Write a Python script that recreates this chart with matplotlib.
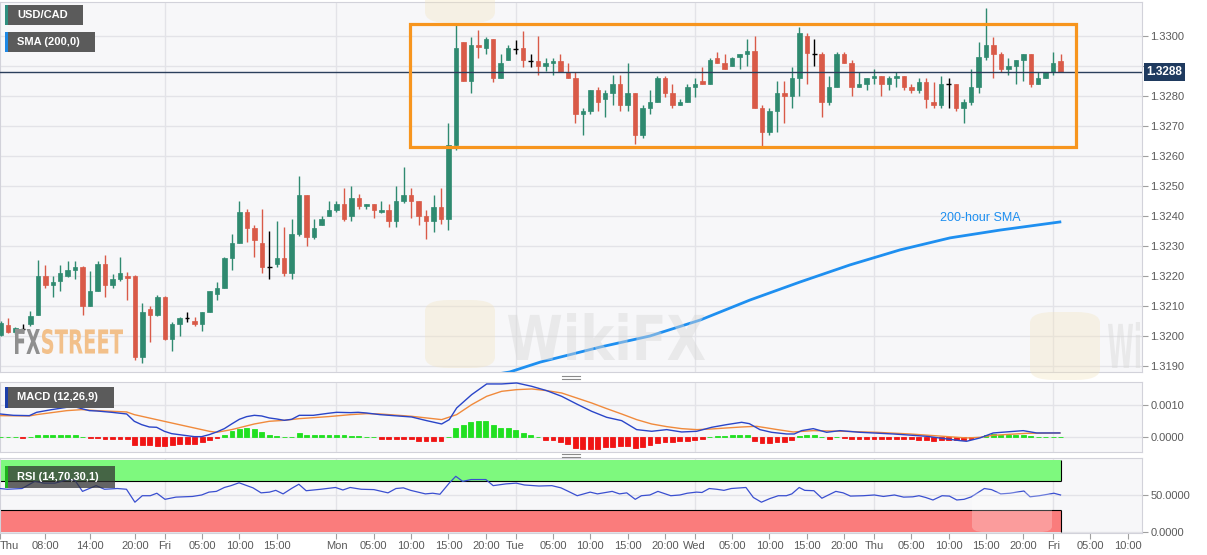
import numpy as np
import matplotlib
matplotlib.use("Agg")
import matplotlib.pyplot as plt
import matplotlib.transforms as mtransforms
from matplotlib.patches import Rectangle, FancyBboxPatch, PathPatch
from matplotlib.lines import Line2D
from matplotlib.textpath import TextPath
from matplotlib.font_manager import FontProperties

plt.rcParams['font.family'] = ['Liberation Sans', 'DejaVu Sans']

# hourly candles, index 0 = Thu 00:00 (weekend hours dropped)
bar_idx = np.arange(2, 145)
opens = [1.32002, 1.32037, 1.32011, 1.32022, 1.32039, 1.32070, 1.32200, 1.32170, 1.32181, 1.32200,
         1.32220, 1.32230, 1.32100, 1.32150, 1.32239, 1.32170, 1.32189, 1.32200, 1.32200, 1.31928,
         1.32089, 1.32070, 1.32128, 1.31989, 1.32039, 1.32058, 1.32048, 1.32039, 1.32078, 1.32139,
         1.32159, 1.32259, 1.32308, 1.32411, 1.32359, 1.32308, 1.32228, 1.32239, 1.32259, 1.32209,
         1.32339, 1.32470, 1.32330, 1.32370, 1.32400, 1.32419, 1.32439, 1.32400, 1.32459, 1.32431,
         1.32439, 1.32411, 1.32419, 1.32381, 1.32450, 1.32469, 1.32450, 1.32400, 1.32381, 1.32430,
         1.32389, 1.32636, 1.32978, 1.32849, 1.32969, 1.32960, 1.32989, 1.32860, 1.32919, 1.32956,
         1.32958, 1.32917, 1.32917, 1.32900, 1.32910, 1.32917, 1.32878, 1.32858, 1.32738, 1.32749,
         1.32819, 1.32789, 1.32808, 1.32838, 1.32769, 1.32808, 1.32669, 1.32758, 1.32778, 1.32858,
         1.32808, 1.32769, 1.32778, 1.32828, 1.32849, 1.32839, 1.32927, 1.32908, 1.32899, 1.32930,
         1.32938, 1.32949, 1.32758, 1.32680, 1.32749, 1.32808, 1.32799, 1.32858, 1.33000, 1.32939,
         1.32939, 1.32780, 1.32828, 1.32939, 1.32910, 1.32828, 1.32839, 1.32858, 1.32867, 1.32839,
         1.32858, 1.32867, 1.32828, 1.32819, 1.32847, 1.32778, 1.32769, 1.32838, 1.32838, 1.32758,
         1.32778, 1.32828, 1.32928, 1.32969, 1.32939, 1.32888, 1.32899, 1.32919, 1.32939, 1.32839,
         1.32858, 1.32878, 1.32917]
highs = [1.32050, 1.32058, 1.32030, 1.32039, 1.32083, 1.32252, 1.32237, 1.32200, 1.32237, 1.32250,
         1.32248, 1.32231, 1.32217, 1.32250, 1.32270, 1.32206, 1.32261, 1.32211, 1.32202, 1.32108,
         1.32100, 1.32137, 1.32133, 1.32047, 1.32061, 1.32078, 1.32061, 1.32080, 1.32150, 1.32178,
         1.32261, 1.32339, 1.32450, 1.32422, 1.32370, 1.32422, 1.32350, 1.32381, 1.32361, 1.32389,
         1.32531, 1.32470, 1.32389, 1.32400, 1.32450, 1.32450, 1.32492, 1.32500, 1.32472, 1.32439,
         1.32439, 1.32450, 1.32439, 1.32500, 1.32561, 1.32491, 1.32450, 1.32419, 1.32470, 1.32491,
         1.32708, 1.33036, 1.32980, 1.32997, 1.33019, 1.32997, 1.32989, 1.32938, 1.32969, 1.32986,
         1.33017, 1.32938, 1.32999, 1.32927, 1.32927, 1.32938, 1.32908, 1.32878, 1.32758, 1.32819,
         1.32828, 1.32819, 1.32869, 1.32869, 1.32908, 1.32808, 1.32769, 1.32819, 1.32867, 1.32867,
         1.32838, 1.32788, 1.32838, 1.32858, 1.32897, 1.32927, 1.32947, 1.32938, 1.32930, 1.32938,
         1.32988, 1.32999, 1.32769, 1.32758, 1.32849, 1.32849, 1.32897, 1.33028, 1.33008, 1.32988,
         1.32947, 1.32867, 1.32947, 1.32947, 1.32919, 1.32878, 1.32858, 1.32888, 1.32867, 1.32867,
         1.32878, 1.32867, 1.32838, 1.32858, 1.32858, 1.32847, 1.32867, 1.32858, 1.32838, 1.32788,
         1.32888, 1.32978, 1.33092, 1.32997, 1.32947, 1.32927, 1.32919, 1.32939, 1.32939, 1.32878,
         1.32878, 1.32947, 1.32938]
lows = [1.31998, 1.32009, 1.32006, 1.32008, 1.32033, 1.32070, 1.32158, 1.32128, 1.32150, 1.32194,
        1.32189, 1.32069, 1.32098, 1.32148, 1.32130, 1.32158, 1.32181, 1.32119, 1.31919, 1.31908,
        1.31978, 1.32067, 1.31987, 1.31948, 1.31998, 1.32047, 1.32031, 1.32017, 1.32078, 1.32119,
        1.32159, 1.32219, 1.32308, 1.32311, 1.32261, 1.32209, 1.32189, 1.32228, 1.32200, 1.32189,
        1.32333, 1.32300, 1.32322, 1.32370, 1.32400, 1.32411, 1.32381, 1.32383, 1.32422, 1.32422,
        1.32391, 1.32409, 1.32361, 1.32361, 1.32441, 1.32391, 1.32370, 1.32322, 1.32344, 1.32372,
        1.32352, 1.32619, 1.32849, 1.32808, 1.32927, 1.32938, 1.32847, 1.32858, 1.32919, 1.32938,
        1.32897, 1.32897, 1.32869, 1.32882, 1.32869, 1.32878, 1.32858, 1.32708, 1.32669, 1.32738,
        1.32749, 1.32728, 1.32769, 1.32749, 1.32749, 1.32638, 1.32658, 1.32738, 1.32778, 1.32797,
        1.32758, 1.32769, 1.32778, 1.32797, 1.32839, 1.32839, 1.32908, 1.32889, 1.32899, 1.32889,
        1.32899, 1.32758, 1.32630, 1.32669, 1.32680, 1.32708, 1.32758, 1.32799, 1.32838, 1.32899,
        1.32728, 1.32769, 1.32828, 1.32908, 1.32799, 1.32828, 1.32819, 1.32839, 1.32799, 1.32819,
        1.32828, 1.32819, 1.32808, 1.32808, 1.32758, 1.32758, 1.32758, 1.32758, 1.32749, 1.32708,
        1.32769, 1.32808, 1.32919, 1.32858, 1.32878, 1.32869, 1.32838, 1.32849, 1.32828, 1.32839,
        1.32858, 1.32869, 1.32878]
closes = [1.32042, 1.32011, 1.32026, 1.32022, 1.32067, 1.32200, 1.32170, 1.32178, 1.32208, 1.32219,
          1.32230, 1.32100, 1.32148, 1.32239, 1.32170, 1.32189, 1.32208, 1.32191, 1.31928, 1.32078,
          1.32070, 1.32128, 1.31989, 1.32039, 1.32058, 1.32058, 1.32039, 1.32078, 1.32148, 1.32159,
          1.32259, 1.32308, 1.32411, 1.32359, 1.32319, 1.32230, 1.32228, 1.32259, 1.32209, 1.32339,
          1.32470, 1.32330, 1.32359, 1.32389, 1.32419, 1.32439, 1.32389, 1.32459, 1.32431, 1.32439,
          1.32420, 1.32419, 1.32381, 1.32450, 1.32469, 1.32450, 1.32400, 1.32381, 1.32430, 1.32389,
          1.32636, 1.32958, 1.32849, 1.32969, 1.32961, 1.32989, 1.32860, 1.32908, 1.32958, 1.32956,
          1.32919, 1.32917, 1.32900, 1.32908, 1.32917, 1.32878, 1.32858, 1.32738, 1.32749, 1.32819,
          1.32780, 1.32808, 1.32838, 1.32769, 1.32808, 1.32669, 1.32758, 1.32778, 1.32858, 1.32808,
          1.32769, 1.32778, 1.32828, 1.32838, 1.32839, 1.32919, 1.32908, 1.32889, 1.32927, 1.32938,
          1.32949, 1.32758, 1.32680, 1.32749, 1.32808, 1.32799, 1.32858, 1.33010, 1.32941, 1.32939,
          1.32780, 1.32828, 1.32939, 1.32910, 1.32828, 1.32838, 1.32858, 1.32867, 1.32839, 1.32858,
          1.32867, 1.32828, 1.32819, 1.32847, 1.32789, 1.32769, 1.32838, 1.32838, 1.32758, 1.32778,
          1.32828, 1.32928, 1.32969, 1.32939, 1.32888, 1.32899, 1.32919, 1.32939, 1.32839, 1.32858,
          1.32878, 1.32908, 1.32878]

# 200-hour SMA
sma_idx = [66, 70.2, 74.3, 82.3, 89.0, 95.7, 102.4, 109.1, 115.8, 122.5, 129.2, 135.9, 143.9]
sma_val = [1.31862, 1.31879, 1.31912, 1.31962, 1.31999, 1.32052, 1.32119, 1.32179, 1.32236,
           1.32286, 1.32326, 1.32352, 1.32379]

last_price = 1.32878
zone_low, zone_high = 1.32630, 1.33038
zone_start, zone_end = 56.9, 146.0

# MACD (12,26,9)
macd_idx = [1.93, 3.72, 5.86, 6.84, 8.85, 10.86, 11.84, 12.87, 13.89, 14.88, 16.89, 18.9, 19.92, 20.9,
            21.93, 22.91, 23.94, 24.92, 26.93, 27.96, 28.94, 29.97, 30.95, 31.98, 32.96, 33.99, 34.97,
            36.0, 36.98, 38.0, 38.99, 40.01, 41.0, 42.02, 43.9, 45.9, 47.0, 48.9, 49.9, 51.0, 52.83,
            57.07, 59.08, 61.09, 62.11, 63.1, 65.11, 67.12, 69.13, 71.14, 73.15, 75.15, 77.16, 79.17,
            81.18, 83.19, 85.2, 87.21, 89.22, 91.23, 93.24, 95.25, 97.26, 99.26, 101.27, 102.3, 103.72,
            105.28, 107.29, 108.32, 109.3, 110.86, 112.66, 114.44, 117.12, 121.58, 126.05, 130.51,
            131.4, 133.19, 134.97, 138.99, 140.78, 143.9]
macd_val = [0.000714, 0.000673, 0.000663, 0.000765, 0.000847, 0.000918, 0.000939, 0.000878, 0.000816,
            0.000806, 0.000765, 0.000714, 0.000490, 0.000388, 0.000316, 0.000306, 0.000184, 0.000112,
            0.000051, 0.000020, 0.000020, 0.000082, 0.000163, 0.000265, 0.000408, 0.000551, 0.000633,
            0.000673, 0.000653, 0.000592, 0.000561, 0.000520, 0.000551, 0.000673, 0.000673, 0.000735,
            0.000765, 0.000755, 0.000765, 0.000745, 0.000694, 0.000622, 0.000510, 0.000408, 0.000541,
            0.000898, 0.001306, 0.001633, 0.001633, 0.001663, 0.001561, 0.001429, 0.001255, 0.001020,
            0.000796, 0.000612, 0.000510, 0.000235, 0.000184, 0.000235, 0.000163, 0.000184, 0.000306,
            0.000388, 0.000459, 0.000418, 0.000235, 0.000153, 0.000102, 0.000102, 0.000204, 0.000265,
            0.000153, 0.000204, 0.000153, 0.000102, 0.000031, -0.000102, -0.000122, -0.000020, 0.000133,
            0.000204, 0.000133, 0.000133]
signal_idx = [1.93, 5.86, 6.84, 10.86, 12.87, 14.88, 18.9, 19.92, 22.91, 26.93, 29.97, 30.95, 32.96,
              36.0, 38.0, 40.01, 42.02, 45.9, 48.9, 51.0, 52.83, 57.07, 61.09, 63.1, 65.11, 67.12,
              69.13, 71.14, 73.15, 75.15, 77.16, 79.17, 81.18, 83.19, 85.2, 87.21, 89.22, 91.23, 93.24,
              95.25, 97.26, 99.26, 101.27, 103.28, 106.08, 108.18, 110.86, 114.88, 119.35, 123.81,
              128.28, 131.4, 133.19, 134.97, 139.44, 143.9]
signal_val = [0.000663, 0.000653, 0.000694, 0.000816, 0.000847, 0.000816, 0.000776, 0.000694, 0.000541,
              0.000337, 0.000184, 0.000153, 0.000235, 0.000408, 0.000490, 0.000520, 0.000571, 0.000633,
              0.000694, 0.000724, 0.000714, 0.000643, 0.000541, 0.000694, 0.001000, 0.001255, 0.001408,
              0.001459, 0.001480, 0.001429, 0.001357, 0.001204, 0.001051, 0.000878, 0.000714, 0.000541,
              0.000408, 0.000327, 0.000265, 0.000235, 0.000255, 0.000286, 0.000316, 0.000337, 0.000235,
              0.000163, 0.000204, 0.000184, 0.000153, 0.000102, 0.000031, -0.000020, 0.0, 0.000061,
              0.000122, 0.000133]
# histogram, in units of 1e-5, one per candle
hist_e5 = [1, 1, 1, -1, 1, 8, 8, 8, 8, 8,
           8, 1, -1, -2, -6, -6, -6, -6, -25, -25,
           -25, -27, -27, -25, -22, -22, -19, -14, -8, -2,
           8, 18, 25, 28, 25, 16, 6, 4, 1, 2,
           12, 8, 7, 7, 7, 7, 7, 5, 5, 1,
           1, -6, -6, -6, -6, -6, -10, -10, -10, -12,
           1, 28, 38, 48, 51, 51, 38, 30, 28, 21,
           13, 6, 1, -8, -8, -15, -22, -34, -35, -35,
           -35, -30, -30, -28, -28, -34, -30, -24, -18, -14,
           -14, -12, -10, -8, -5, 1, 4, 5, 6, 8,
           8, -12, -17, -17, -15, -14, -8, 4, 7, 7,
           1, -4, 1, -1, -5, -5, -5, -5, -5, -5,
           -5, -5, -5, -7, -7, -10, -8, -7, -8, -7,
           -5, 2, 8, 11, 8, 8, 8, 8, 3, 1,
           1, 1, 1]

# RSI (14)
rsi_idx = [1.93, 2.91, 4.88, 6.59, 7.82, 9.3, 11.01, 12.0, 12.98, 14.8, 15.93, 17.64, 18.87, 20.0,
           20.99, 22.06, 22.94, 24.03, 25.5, 27.71, 28.94, 29.92, 30.91, 31.98, 32.87, 33.95, 35.82,
           36.9, 38.03, 38.87, 39.85, 40.97, 41.96, 42.94, 44.91, 46.87, 47.86, 48.83, 50.31, 52.02,
           53.9, 54.97, 55.96, 56.94, 58.91, 59.89, 60.86, 62.1, 62.98, 63.91, 65.04, 67.01, 67.99,
           69.7, 71.08, 72.17, 74.12, 75.85, 77.07, 78.06, 79.25, 80.98, 81.96, 83.93, 84.91, 85.88,
           87.02, 87.85, 88.98, 90.06, 91.78, 93.0, 93.99, 95.22, 95.96, 96.93, 97.92, 98.9, 99.88,
           101.85, 102.84, 103.92, 105.05, 106.18, 107.26, 108.0, 108.98, 109.72, 110.95, 112.02,
           112.9, 113.89, 114.87, 115.85, 117.57, 119.05, 120.26, 121.74, 122.97, 124.2, 125.03,
           125.92, 126.9, 128.12, 129.1, 130.09, 131.07, 132.05, 133.78, 134.75, 135.98, 137.2,
           139.08, 139.91, 141.14, 143.1, 143.99]
rsi_val = [59.3, 58.3, 59.3, 69.0, 66.6, 66.6, 71.5, 70.0, 55.4, 63.2, 58.3, 59.3, 58.3, 40.7,
           49.5, 49.5, 52.9, 44.6, 47.6, 48.5, 50.5, 54.4, 55.4, 60.7, 63.2, 67.1, 60.2,
           53.4, 54.4, 56.8, 52.0, 59.3, 65.1, 56.3, 58.3, 60.7, 57.3, 60.7, 58.3, 57.8,
           53.4, 59.3, 60.2, 56.8, 52.0, 52.9, 51.5, 66.6, 75.9, 69.0, 71.5, 71.5, 63.2,
           65.6, 66.6, 64.1, 62.7, 63.2, 60.2, 55.4, 49.5, 54.4, 52.0, 55.4, 52.0, 53.4,
           44.6, 49.5, 50.5, 55.4, 49.5, 50.5, 52.9, 54.4, 53.9, 59.3, 58.3, 56.8, 59.3,
           60.7, 47.1, 40.7, 45.6, 49.5, 49.5, 52.0, 60.7, 56.8, 56.3, 46.1,
           50.5, 55.4, 53.4, 49.0, 49.5, 50.5, 48.5, 50.5, 47.6, 48.0, 49.5,
           47.1, 43.7, 49.5, 49.0, 43.7, 44.6, 48.0, 59.3, 57.8, 52.0, 52.9,
           55.9, 48.0, 49.5, 52.9, 50.5]

tick_pos = [1.93, 8, 14, 20, 24, 29, 34, 39, 47, 52, 57, 62, 67, 71, 76, 81, 86, 91, 95, 100, 105,
            110, 115, 119, 124, 129, 134, 139, 143, 148, 153]
tick_txt = ['Thu', '08:00', '14:00', '20:00', 'Fri', '05:00', '10:00', '15:00', 'Mon', '05:00',
            '10:00', '15:00', '20:00', 'Tue', '05:00', '10:00', '15:00', '20:00', 'Wed', '05:00',
            '10:00', '15:00', '20:00', 'Thu', '05:00', '10:00', '15:00', '20:00', 'Fri', '05:00', '10:00']
day_starts = [24, 47, 71, 95, 119, 143]

W, H = 1207, 555
fig = plt.figure(figsize=(W / 100, H / 100), dpi=100)
fig.patch.set_facecolor('white')


def px_axes(x0, y0, x1, y1):
    return fig.add_axes([x0 / W, 1 - y1 / H, (x1 - x0) / W, (y1 - y0) / H])


ax = px_axes(0, 2, 1142, 372)
axm = px_axes(0, 382, 1142, 452)
axr = px_axes(0, 458, 1142, 533)

GRID = '#e3e3e8'
for a in (ax, axm, axr):
    a.set_facecolor('#f7f7f9')
    for s in a.spines.values():
        s.set_color('#d2d2da')
    a.yaxis.tick_right()
    a.tick_params(axis='y', length=4, color='#a0a0a0', labelsize=8, labelcolor='#5a5a5a', pad=2)
    a.tick_params(axis='x', length=0, labelbottom=False)
    a.set_xlim(1.93, 154.9)
    a.grid(axis='y', color=GRID, lw=1)
    a.set_axisbelow(True)
    for d in day_starts:
        a.axvline(d, color=GRID, lw=1, zorder=0)

# ---- price panel
GREEN, RED = '#2f8a70', '#d95a48'
o, h, l, c = map(np.array, (opens, highs, lows, closes))
up, dn, dj = c > o, c < o, c == o
for m, col in ((up, GREEN), (dn, RED)):
    ax.vlines(bar_idx[m], l[m], h[m], color=col, lw=1, zorder=3)
    ax.bar(bar_idx[m], np.abs(c[m] - o[m]), bottom=np.minimum(o[m], c[m]), width=0.6,
           color=col, edgecolor=col, lw=0.5, zorder=4)
ax.vlines(bar_idx[dj], l[dj], h[dj], color='black', lw=1, zorder=4)
ax.hlines(c[dj], bar_idx[dj] - 0.3, bar_idx[dj] + 0.3, color='black', lw=1, zorder=4)

ax.plot(sma_idx, sma_val, color='#1e8ff0', lw=2, zorder=5)
ax.text(127.8, 1.32392, '200-hour SMA', color='#1e8ff0', fontsize=9, va='center', zorder=6)

ax.add_patch(Rectangle((zone_start, zone_low), zone_end - zone_start, zone_high - zone_low,
                       fill=False, ec='#f7951e', lw=2.3, zorder=6))
ax.axhline(last_price, color='#2b3f5c', lw=1, zorder=5)
ax.set_ylim(1.31879, 1.33112)
yt = np.round(np.arange(1.3190, 1.33005, 0.001), 4)
ax.set_yticks(yt)
# the 1.3290 label sits under the last-price tag
ax.set_yticklabels(['' if abs(v - 1.329) < 1e-6 else '%.4f' % v for v in yt])
trans = mtransforms.blended_transform_factory(ax.transAxes, ax.transData)
ax.text(1.004, last_price, '%.4f' % last_price, transform=trans, ha='left', va='center',
        color='white', fontsize=8.5, fontweight='bold', zorder=10,
        bbox=dict(boxstyle='square,pad=0.25', fc='#1f3a5f', ec='none'))

# ---- MACD panel
hist = np.array(hist_e5) * 1e-5
axm.bar(bar_idx, hist, width=0.65, color=np.where(hist >= 0, '#20e020', '#f01414'),
        edgecolor=np.where(hist >= 0, '#20e020', '#f01414'), lw=0.6, zorder=3)
axm.plot(signal_idx, signal_val, color='#f08a3c', lw=1, zorder=4)
axm.plot(macd_idx, macd_val, color='#2a45c8', lw=1, zorder=5)
axm.set_ylim(-0.00045, 0.001693)
axm.set_yticks([0.0, 0.001])
axm.yaxis.set_major_formatter(matplotlib.ticker.FormatStrFormatter('%.4f'))

# ---- RSI panel
axr.add_patch(Rectangle((1.93, 70), 144 - 1.93, 28, fc='#7ef97e', ec='none', zorder=1))
axr.add_patch(Rectangle((1.93, 0), 144 - 1.93, 30, fc='#fa7c7c', ec='none', zorder=1))
axr.hlines([70, 30], 1.93, 144, color='black', lw=0.8, zorder=2)
axr.vlines(144, 70, 98, color='black', lw=0.8, zorder=2)
axr.vlines(144, 0, 30, color='black', lw=0.8, zorder=2)
axr.plot(rsi_idx, rsi_val, color='#3a4fd0', lw=0.9, zorder=4)
axr.set_ylim(-1.2, 100.8)
axr.set_yticks([0, 50])
axr.yaxis.set_major_formatter(matplotlib.ticker.FormatStrFormatter('%.4f'))
axr.set_xticks(tick_pos)
axr.set_xticklabels(tick_txt)
axr.tick_params(axis='x', length=4, color='#a0a0a0', labelsize=8, labelcolor='#5a5a5a', pad=2,
                labelbottom=True)
axr.get_xticklabels()[0].set_ha('left')


# ---- watermarks
def stretched_text(s, x0, y0, x1, y1, color, z=8):
    tp = TextPath((0, 0), s, size=1, prop=FontProperties(family='DejaVu Sans', weight='bold'))
    bb = tp.get_extents()
    tr = (mtransforms.Affine2D().translate(-bb.x0, -bb.y0)
          .scale((x1 - x0) / bb.width / W, (y1 - y0) / bb.height / H)
          .translate(x0 / W, 1 - y1 / H) + fig.transFigure)
    fig.add_artist(PathPatch(tp, transform=tr, fc=color, ec='none', zorder=z))


stretched_text('FX', 15, 329, 40, 354, '#8f8f8f')
stretched_text('STREET', 42, 329, 123, 354, '#f2c08a')

for (lx, ly) in ((425, 300), (1030, 312), (425, -45)):
    fig.add_artist(FancyBboxPatch((lx / W, 1 - (ly + 68) / H), 70 / W, 68 / H,
                                  boxstyle='round,pad=0,rounding_size=0.02', transform=fig.transFigure,
                                  fc='#f3e4bd', ec='none', alpha=0.35, zorder=7))
stretched_text('WikiFX', 508, 313, 705, 360, '#d8d8d8', z=7)
fig.artists[-1].set_alpha(0.45)
stretched_text('Wi', 1108, 322, 1140, 368, '#d8d8d8', z=7)
fig.artists[-1].set_alpha(0.45)
fig.add_artist(FancyBboxPatch((972 / W, 1 - 532 / H), 80 / W, 40 / H,
                              boxstyle='round,pad=0,rounding_size=0.01', transform=fig.transFigure,
                              fc='white', ec='none', alpha=0.25, zorder=7))


# ---- indicator tags
def tag(x0, y0, x1, y1, stripe, text, fc='#5b5b5b', alpha=1.0):
    fig.add_artist(Rectangle((x0 / W, 1 - y1 / H), (x1 - x0) / W, (y1 - y0) / H,
                             transform=fig.transFigure, fc=fc, ec='none', alpha=alpha, zorder=10))
    fig.add_artist(Rectangle((x0 / W, 1 - y1 / H), 2.5 / W, (y1 - y0) / H,
                             transform=fig.transFigure, fc=stripe, ec='none', zorder=11))
    fig.text((x0 + 12) / W, 1 - (y0 + y1) / 2 / H, text, color='white', fontsize=8,
             fontweight='bold', va='center', ha='left', zorder=12)


tag(5, 5, 83, 25, '#2f8f7f', 'USD/CAD')
tag(5, 32, 95, 52, '#1e88e5', 'SMA (200,0)')
tag(5, 387, 114, 408, '#1c3faa', 'MACD (12,26,9)')
tag(5, 466, 115, 488, '#1db31d', 'RSI (14,70,30,1)', fc='#333333', alpha=0.75)

for yy in (375.5, 378.5, 453.5, 456.5):
    fig.add_artist(Line2D([562 / W, 580 / W], [1 - yy / H, 1 - yy / H], color='#8a8a8a', lw=0.8,
                          transform=fig.transFigure, zorder=9))

fig.savefig('out.png', dpi=100, facecolor='white')
